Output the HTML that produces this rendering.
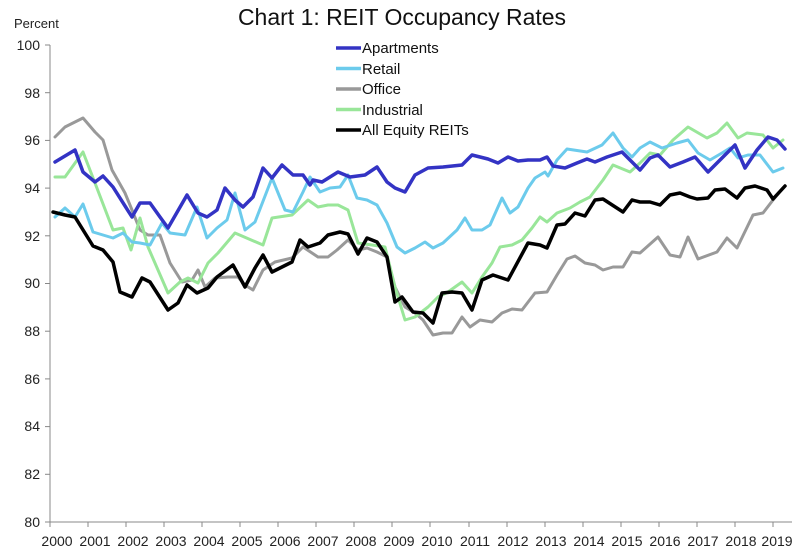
<!DOCTYPE html>
<html><head><meta charset="utf-8"><style>
body{margin:0;background:#fff;}
svg{display:block;font-family:"Liberation Sans",sans-serif;}
</style></head><body>
<svg width="800" height="554" viewBox="0 0 800 554">
<rect width="800" height="554" fill="#fff"/>
<text x="402" y="25" font-size="23" text-anchor="middle" fill="#111">Chart 1: REIT Occupancy Rates</text>
<text x="14" y="28" font-size="13" fill="#222">Percent</text>
<g stroke="#888" stroke-width="1" fill="none">
<line x1="50" y1="45" x2="50" y2="522"/>
<line x1="50" y1="522" x2="792" y2="522"/>
<line x1="45" y1="45" x2="50" y2="45"/><line x1="45" y1="92.7" x2="50" y2="92.7"/><line x1="45" y1="140.4" x2="50" y2="140.4"/><line x1="45" y1="188.1" x2="50" y2="188.1"/><line x1="45" y1="235.8" x2="50" y2="235.8"/><line x1="45" y1="283.5" x2="50" y2="283.5"/><line x1="45" y1="331.2" x2="50" y2="331.2"/><line x1="45" y1="378.9" x2="50" y2="378.9"/><line x1="45" y1="426.6" x2="50" y2="426.6"/><line x1="45" y1="474.3" x2="50" y2="474.3"/><line x1="45" y1="522" x2="50" y2="522"/>
</g>
<g font-size="14" fill="#222" text-anchor="end">
<text x="40" y="50">100</text><text x="40" y="98">98</text><text x="40" y="145">96</text><text x="40" y="193">94</text><text x="40" y="241">92</text><text x="40" y="288">90</text><text x="40" y="336">88</text><text x="40" y="384">86</text><text x="40" y="431">84</text><text x="40" y="479">82</text><text x="40" y="527">80</text>
</g>
<g stroke="#888" stroke-width="1">
<line x1="50" y1="522" x2="50" y2="527"/><line x1="88" y1="522" x2="88" y2="527"/><line x1="126" y1="522" x2="126" y2="527"/><line x1="164" y1="522" x2="164" y2="527"/><line x1="202" y1="522" x2="202" y2="527"/><line x1="240" y1="522" x2="240" y2="527"/><line x1="278" y1="522" x2="278" y2="527"/><line x1="316" y1="522" x2="316" y2="527"/><line x1="354" y1="522" x2="354" y2="527"/><line x1="392" y1="522" x2="392" y2="527"/><line x1="430" y1="522" x2="430" y2="527"/><line x1="469" y1="522" x2="469" y2="527"/><line x1="507" y1="522" x2="507" y2="527"/><line x1="545" y1="522" x2="545" y2="527"/><line x1="583" y1="522" x2="583" y2="527"/><line x1="621" y1="522" x2="621" y2="527"/><line x1="659" y1="522" x2="659" y2="527"/><line x1="697" y1="522" x2="697" y2="527"/><line x1="735" y1="522" x2="735" y2="527"/><line x1="773" y1="522" x2="773" y2="527"/>
</g>
<g font-size="14" fill="#222" text-anchor="middle" textLength="30">
<text x="57" y="546">2000</text><text x="95" y="546">2001</text><text x="133" y="546">2002</text><text x="171" y="546">2003</text><text x="209" y="546">2004</text><text x="247" y="546">2005</text><text x="285" y="546">2006</text><text x="323" y="546">2007</text><text x="361" y="546">2008</text><text x="399" y="546">2009</text><text x="437" y="546">2010</text><text x="475" y="546">2011</text><text x="513" y="546">2012</text><text x="551" y="546">2013</text><text x="589" y="546">2014</text><text x="627" y="546">2015</text><text x="665" y="546">2016</text><text x="703" y="546">2017</text><text x="741" y="546">2018</text><text x="777" y="546">2019</text>
</g>
<g fill="none" stroke-linejoin="round" stroke-linecap="round">
<polyline stroke="#999999" stroke-width="3" points="55,137 65,127 83,118 95,132 103,140 112,170 125,193 132,210 140,230 148,235 160,235 170,263 182,282 192,280 198,270 205,287 215,278 228,277 238,277 245,285 253,290 263,270 275,262 292,258 303,247 318,257 328,257 337,250 348,240 358,250 367,248 377,252 387,257 395,287 405,307 415,313 423,320 433,335 443,333 452,333 462,317 470,327 480,320 492,322 502,313 512,309 522,310 535,293 547,292 557,275 567,259 575,256 585,263 595,265 603,270 613,267 623,267 632,252 640,253 658,237 670,255 680,257 688,237 698,259 717,252 727,238 737,248 753,215 763,213 773,200 783,188"/>
<polyline stroke="#99e699" stroke-width="3" points="55,177 65,177 83,152 95,183 113,230 123,228 131,250 140,218 148,247 168,293 180,282 188,278 198,283 208,263 218,253 235,233 263,245 272,218 292,215 308,200 318,207 328,205 338,205 348,210 358,243 372,245 385,247 395,287 405,320 415,317 428,307 438,297 448,292 462,282 472,293 482,277 492,263 500,247 512,245 522,240 532,228 540,217 547,222 557,213 570,208 580,202 590,197 603,180 613,165 630,172 640,163 650,153 660,155 673,140 688,127 707,138 717,133 727,123 738,138 747,133 763,135 773,148 783,140"/>
<polyline stroke="#6ccbec" stroke-width="3" points="55,217 65,208 75,217 83,204 93,232 103,235 113,238 123,233 132,242 140,243 150,245 162,223 170,233 185,235 197,207 207,238 217,228 227,220 235,193 245,230 255,222 272,178 285,210 293,212 303,192 310,177 320,192 330,188 340,187 348,175 357,198 367,200 377,205 387,223 397,247 405,253 415,248 425,242 433,248 443,243 457,230 465,218 472,230 482,230 490,225 502,198 510,213 518,207 528,188 535,178 545,172 548,176 557,160 567,149 587,152 602,145 613,133 623,148 632,157 640,148 650,142 662,148 677,143 688,140 698,153 710,160 722,153 730,148 738,158 748,155 760,155 773,172 783,168"/>
<polyline stroke="#3333c4" stroke-width="3.5" points="55,162 75,150 83,172 95,182 103,176 113,187 132,217 140,203 150,203 160,217 168,228 187,195 198,213 207,217 217,210 225,188 235,200 243,207 253,197 263,168 272,178 282,165 293,175 303,175 310,185 313,180 322,182 338,172 350,177 365,175 377,167 387,182 395,188 405,192 415,175 428,168 443,167 462,165 472,155 480,157 488,159 498,163 508,157 518,161 528,160 540,160 547,157 553,166 565,168 577,163 587,159 595,162 607,157 622,152 632,162 640,170 650,158 658,155 670,167 683,162 695,157 708,172 722,158 735,145 745,168 757,150 768,137 777,140 785,149"/>
<polyline stroke="#000" stroke-width="3.5" points="53,212 65,215 75,217 93,246 103,250 113,262 120,292 132,297 142,278 150,282 168,310 178,303 187,285 197,293 208,288 217,277 233,265 245,287 255,268 263,255 272,272 292,262 300,240 308,247 320,243 328,235 340,232 348,234 358,254 367,238 377,242 387,257 395,302 402,297 413,312 423,313 433,323 442,293 452,292 462,293 472,310 482,280 493,275 508,280 528,243 540,245 547,248 557,225 565,224 575,213 585,216 595,200 603,199 623,212 632,200 640,202 650,202 660,205 670,195 680,193 690,197 697,199 708,198 715,190 725,189 737,198 745,188 755,186 767,190 773,199 785,186"/>
</g>
<g stroke-width="3.5">
<line x1="336" y1="48" x2="361" y2="48" stroke="#3333c4"/>
<line x1="336" y1="68.5" x2="361" y2="68.5" stroke="#6ccbec"/>
<line x1="336" y1="89" x2="361" y2="89" stroke="#999999"/>
<line x1="336" y1="109.5" x2="361" y2="109.5" stroke="#99e699"/>
<line x1="336" y1="130" x2="361" y2="130" stroke="#000"/>
</g>
<g font-size="15" fill="#111">
<text x="362" y="53">Apartments</text>
<text x="362" y="74">Retail</text>
<text x="362" y="94">Office</text>
<text x="362" y="115">Industrial</text>
<text x="362" y="135">All Equity REITs</text>
</g>
</svg>
</body></html>
